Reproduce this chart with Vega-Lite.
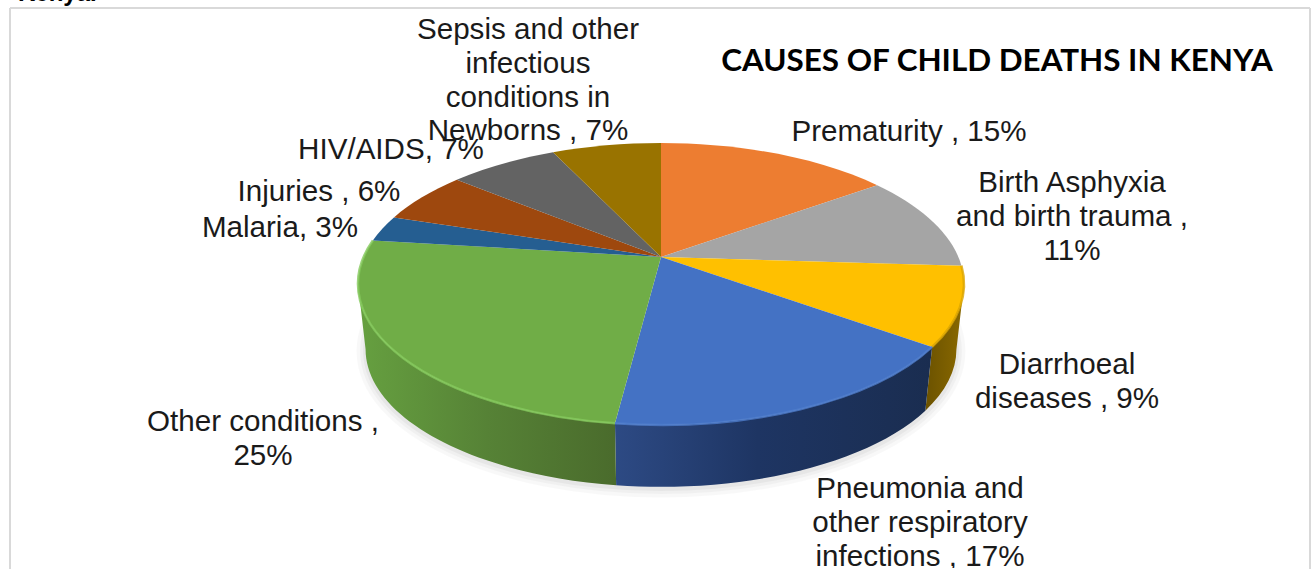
{
  "$schema": "https://vega.github.io/schema/vega-lite/v6.json",
  "width": 1314,
  "height": 569,
  "autosize": {"type": "fit", "contains": "padding"},
  "padding": 0,
  "background": "white",
  "config": {"view": {"stroke": null}},
  "data": {
    "values": [
      {"slice": 1, "cause": "Prematurity", "share": 15, "label": ["Prematurity , 15%"]},
      {"slice": 2, "cause": "Birth Asphyxia", "share": 11, "label": ["Birth Asphyxia", "and birth trauma ,", "11%"]},
      {"slice": 3, "cause": "Diarrhoeal diseases", "share": 9, "label": ["Diarrhoeal", "diseases , 9%"]},
      {"slice": 4, "cause": "Pneumonia", "share": 17, "label": ["Pneumonia and", "other respiratory", "infections , 17%"]},
      {"slice": 5, "cause": "Other conditions", "share": 25, "label": ["Other conditions ,", "25%"]},
      {"slice": 6, "cause": "Malaria", "share": 3, "label": ["Malaria, 3%"]},
      {"slice": 7, "cause": "Injuries", "share": 6, "label": ["Injuries , 6%"]},
      {"slice": 8, "cause": "HIV/AIDS", "share": 7, "label": ["HIV/AIDS, 7%"]},
      {"slice": 9, "cause": "Sepsis", "share": 7, "label": ["Sepsis and other", "infectious", "conditions in", "Newborns , 7%"]}
    ]
  },
  "transform": [
    {"window": [{"op": "sum", "field": "share", "as": "cum"}], "sort": [{"field": "slice", "order": "ascending"}], "frame": [null, 0]},
    {"calculate": "(datum.cum - datum.share) * PI / 50", "as": "t0"},
    {"calculate": "datum.cum * PI / 50", "as": "t1"},
    {"calculate": "297.4 * sin(datum.t0) / (1 + 0.1915 * cos(datum.t0))", "as": "x0"},
    {"calculate": "-135.8 * cos(datum.t0) / (1 + 0.1915 * cos(datum.t0))", "as": "y0"},
    {"calculate": "297.4 * sin(datum.t1) / (1 + 0.1915 * cos(datum.t1))", "as": "x1"},
    {"calculate": "-135.8 * cos(datum.t1) / (1 + 0.1915 * cos(datum.t1))", "as": "y1"},
    {"calculate": "round(datum.x0 * 100) / 100 + ',' + round(datum.y0 * 100) / 100", "as": "p0"},
    {"calculate": "round(datum.x1 * 100) / 100 + ',' + round(datum.y1 * 100) / 100", "as": "p1"},
    {"calculate": "max(datum.cum - datum.share, 28.07) * PI / 50", "as": "w0"},
    {"calculate": "min(datum.cum, 71.93) * PI / 50", "as": "w1"},
    {"calculate": "297.4 * sin(datum.w0) / (1 + 0.1915 * cos(datum.w0))", "as": "wx0"},
    {"calculate": "-135.8 * cos(datum.w0) / (1 + 0.1915 * cos(datum.w0))", "as": "wy0"},
    {"calculate": "297.4 * sin(datum.w1) / (1 + 0.1915 * cos(datum.w1))", "as": "wx1"},
    {"calculate": "-135.8 * cos(datum.w1) / (1 + 0.1915 * cos(datum.w1))", "as": "wy1"},
    {"calculate": "round(datum.wx0 * 100) / 100 + ',' + round(datum.wy0 * 100) / 100", "as": "s0"},
    {"calculate": "round(datum.wx1 * 100) / 100 + ',' + round(datum.wy1 * 100) / 100", "as": "s1"},
    {"calculate": "round(97.5 * datum.wx0) / 100 + ',' + round(97.5 * datum.wy0 + 6600) / 100", "as": "q0"},
    {"calculate": "round(97.5 * datum.wx1) / 100 + ',' + round(97.5 * datum.wy1 + 6600) / 100", "as": "q1"},
    {"calculate": "'M0,0L' + datum.p0 + 'A303,141,0,0,1,' + datum.p1 + 'Z'", "as": "wedge"},
    {"calculate": "'M' + datum.s0 + 'A303,141,0,0,1,' + datum.s1 + 'L' + datum.q1 + 'A295.4,137.5,0,0,0,' + datum.q0 + 'Z'", "as": "wall"},
    {"calculate": "'M' + datum.p0 + 'A303,141,0,0,1,' + datum.p1", "as": "rim"},
    {"calculate": "{'Prematurity': 909, 'Birth Asphyxia': 1072, 'Diarrhoeal diseases': 1067, 'Pneumonia': 920, 'Other conditions': 263, 'Malaria': 280, 'Injuries': 319, 'HIV/AIDS': 391, 'Sepsis': 528}[datum.cause]", "as": "labelX"},
    {"calculate": "{'Prematurity': 132, 'Birth Asphyxia': 183, 'Diarrhoeal diseases': 365, 'Pneumonia': 489, 'Other conditions': 422, 'Malaria': 228, 'Injuries': 192, 'HIV/AIDS': 150, 'Sepsis': 30}[datum.cause]", "as": "labelY"}
  ],
  "layer": [
    {
      "data": {"values": [{"edge": "left"}]},
      "mark": {"type": "rule", "stroke": "#d9d9d9", "strokeWidth": 2},
      "encoding": {
        "x": {"datum": 10, "type": "quantitative", "scale": {"domain": [0, 1314], "range": [0, 1314], "zero": false, "nice": false}, "axis": null},
        "y": {"datum": 8, "type": "quantitative", "scale": {"domain": [0, 569], "range": [0, 569], "zero": false, "nice": false}, "axis": null},
        "y2": {"datum": 569}
      }
    },
    {
      "data": {"values": [{"edge": "right"}]},
      "mark": {"type": "rule", "stroke": "#d9d9d9", "strokeWidth": 2},
      "encoding": {
        "x": {"datum": 1310, "type": "quantitative"},
        "y": {"datum": 8, "type": "quantitative"},
        "y2": {"datum": 569}
      }
    },
    {
      "data": {"values": [{"edge": "top"}]},
      "mark": {"type": "rule", "stroke": "#d9d9d9", "strokeWidth": 2},
      "encoding": {
        "x": {"datum": 10, "type": "quantitative"},
        "x2": {"datum": 1310},
        "y": {"datum": 8, "type": "quantitative"}
      }
    },
    {
      "data": {"values": [{"text": "Kenya."}]},
      "mark": {"type": "text", "clip": true, "font": "Liberation Sans", "fontWeight": "bold", "fontSize": 24, "align": "left", "baseline": "alphabetic", "color": "#000000"},
      "encoding": {
        "x": {"datum": 18, "type": "quantitative"},
        "y": {"datum": 0.5, "type": "quantitative"},
        "text": {"field": "text", "type": "nominal"}
      }
    },
    {
      "data": {"values": [{"text": "CAUSES OF CHILD DEATHS IN KENYA"}]},
      "mark": {"type": "text", "font": "Lato", "fontWeight": "bold", "fontSize": 31.4, "align": "center", "baseline": "middle", "color": "#000000"},
      "encoding": {
        "x": {"datum": 997, "type": "quantitative"},
        "y": {"datum": 62, "type": "quantitative"},
        "text": {"field": "text", "type": "nominal"}
      }
    },
    {
      "data": {"values": [{"part": "shadow"}]},
      "mark": {"type": "point", "filled": false, "stroke": "#000000", "strokeWidth": 18, "strokeOpacity": 0.035, "size": 4, "shape": "M-295.4,0A295.4,137.5,0,1,1,295.4,0A295.4,137.5,0,1,1,-295.4,0Z"},
      "encoding": {
        "x": {"datum": 661, "type": "quantitative"},
        "y": {"datum": 351, "type": "quantitative"}
      }
    },
    {
      "data": {"values": [{"part": "shadow"}]},
      "mark": {"type": "point", "filled": false, "stroke": "#000000", "strokeWidth": 11, "strokeOpacity": 0.04, "size": 4, "shape": "M-295.4,0A295.4,137.5,0,1,1,295.4,0A295.4,137.5,0,1,1,-295.4,0Z"},
      "encoding": {
        "x": {"datum": 661, "type": "quantitative"},
        "y": {"datum": 351, "type": "quantitative"}
      }
    },
    {
      "data": {"values": [{"part": "shadow"}]},
      "mark": {"type": "point", "filled": false, "stroke": "#000000", "strokeWidth": 5, "strokeOpacity": 0.05, "size": 4, "shape": "M-295.4,0A295.4,137.5,0,1,1,295.4,0A295.4,137.5,0,1,1,-295.4,0Z"},
      "encoding": {
        "x": {"datum": 661, "type": "quantitative"},
        "y": {"datum": 351, "type": "quantitative"}
      }
    },
    {
      "transform": [{"filter": "datum.cause === 'Diarrhoeal diseases'"}],
      "mark": {"type": "point", "filled": true, "opacity": 1, "size": 4,
        "fill": {"gradient": "linear", "x1": 0, "y1": 0, "x2": 1, "y2": 0, "stops": [{"offset": 0, "color": "#6b5200"}, {"offset": 1, "color": "#8a6900"}]}},
      "encoding": {
        "x": {"datum": 661, "type": "quantitative"},
        "y": {"datum": 257, "type": "quantitative"},
        "shape": {"field": "wall", "type": "nominal", "scale": null, "legend": null}
      }
    },
    {
      "transform": [{"filter": "datum.cause === 'Pneumonia'"}],
      "mark": {"type": "point", "filled": true, "opacity": 1, "size": 4,
        "fill": {"gradient": "linear", "x1": 0, "y1": 0, "x2": 1, "y2": 0, "stops": [{"offset": 0, "color": "#2d4a84"}, {"offset": 0.45, "color": "#1e3563"}, {"offset": 1, "color": "#1a2d50"}]}},
      "encoding": {
        "x": {"datum": 661, "type": "quantitative"},
        "y": {"datum": 257, "type": "quantitative"},
        "shape": {"field": "wall", "type": "nominal", "scale": null, "legend": null}
      }
    },
    {
      "transform": [{"filter": "datum.cause === 'Other conditions'"}],
      "mark": {"type": "point", "filled": true, "opacity": 1, "size": 4,
        "fill": {"gradient": "linear", "x1": 0, "y1": 0, "x2": 1, "y2": 0, "stops": [{"offset": 0, "color": "#66a040"}, {"offset": 0.5, "color": "#568236"}, {"offset": 1, "color": "#4a6b2c"}]}},
      "encoding": {
        "x": {"datum": 661, "type": "quantitative"},
        "y": {"datum": 257, "type": "quantitative"},
        "shape": {"field": "wall", "type": "nominal", "scale": null, "legend": null}
      }
    },
    {
      "mark": {"type": "point", "filled": true, "opacity": 1, "size": 4},
      "encoding": {
        "x": {"datum": 661, "type": "quantitative"},
        "y": {"datum": 257, "type": "quantitative"},
        "shape": {"field": "wedge", "type": "nominal", "scale": null, "legend": null},
        "fill": {
          "field": "cause", "type": "nominal", "legend": null,
          "scale": {
            "domain": ["Prematurity", "Birth Asphyxia", "Diarrhoeal diseases", "Pneumonia", "Other conditions", "Malaria", "Injuries", "HIV/AIDS", "Sepsis"],
            "range": ["#ed7d31", "#a5a5a5", "#ffc000", "#4472c4", "#70ad47", "#255e91", "#9e480e", "#636363", "#997300"]
          }
        }
      }
    },
    {
      "transform": [{"filter": "datum.cum > 26 && datum.cum < 78"}],
      "mark": {"type": "point", "filled": false, "opacity": 1, "size": 4, "strokeWidth": 2.5, "strokeOpacity": 0.8},
      "encoding": {
        "x": {"datum": 661, "type": "quantitative"},
        "y": {"datum": 257, "type": "quantitative"},
        "shape": {"field": "rim", "type": "nominal", "scale": null, "legend": null},
        "stroke": {
          "field": "cause", "type": "nominal", "legend": null,
          "scale": {
            "domain": ["Diarrhoeal diseases", "Pneumonia", "Other conditions"],
            "range": ["#dba500", "#4f7dcc", "#84c95c"]
          }
        }
      }
    },
    {
      "mark": {"type": "text", "clip": true, "font": "Liberation Sans", "fontSize": 29.6, "lineHeight": 33.8, "align": "center", "baseline": "middle", "color": "#1a1a1a"},
      "encoding": {
        "x": {"field": "labelX", "type": "quantitative"},
        "y": {"field": "labelY", "type": "quantitative"},
        "text": {"field": "label", "type": "nominal"}
      }
    }
  ]
}
